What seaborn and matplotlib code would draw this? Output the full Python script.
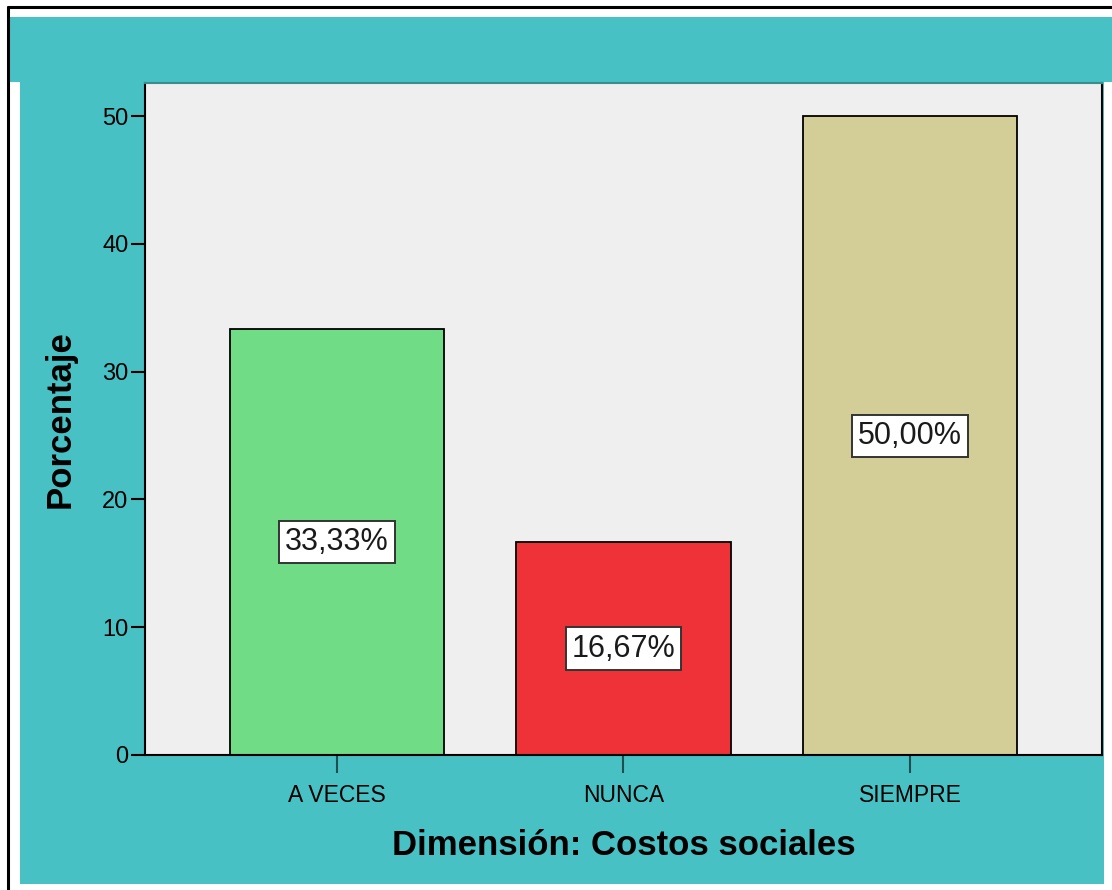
import pandas as pd
import matplotlib.pyplot as plt
import seaborn as sns
from matplotlib.patches import Rectangle
from matplotlib.lines import Line2D

# datos
categorias = ['A VECES', 'NUNCA', 'SIEMPRE']
porcentajes = [33.33, 16.67, 50.00]
etiquetas = ['33,33%', '16,67%', '50,00%']
colores = ['#70DD86', '#EF3138', '#D3CE98']

df = pd.DataFrame({'categoria': categorias, 'porcentaje': porcentajes})

sns.set_style('white')
plt.rcParams['font.family'] = ['Liberation Sans', 'DejaVu Sans']
plt.rcParams['text.color'] = 'black'
plt.rcParams['axes.labelcolor'] = 'black'
plt.rcParams['xtick.color'] = 'black'
plt.rcParams['ytick.color'] = 'black'

fig = plt.figure(figsize=(11.12, 8.90), dpi=100)
fig.patch.set_facecolor('white')

teal = '#48C1C5'
# fondo turquesa (banda superior y marco)
fig.patches.append(Rectangle((0.009, 0.9079), 0.991, 0.0731, transform=fig.transFigure,
                             facecolor=teal, edgecolor='none', zorder=-10))
fig.patches.append(Rectangle((0.018, 0.0067), 0.9748, 0.9012, transform=fig.transFigure,
                             facecolor=teal, edgecolor='none', zorder=-10))
# borde negro exterior
fig.add_artist(Line2D([0.0072, 0.0072], [0.0, 0.992], transform=fig.transFigure, color='black', lw=2.2))
fig.add_artist(Line2D([0.0072, 1.0], [0.992, 0.992], transform=fig.transFigure, color='black', lw=2.2))

ax = fig.add_axes([0.1304, 0.1517, 0.8606, 0.755])
ax.set_facecolor('#EFEFEF')

sns.barplot(data=df, x='categoria', y='porcentaje', hue='categoria', palette=colores,
            saturation=1, legend=False, width=0.75, edgecolor='black', linewidth=1.3, ax=ax, zorder=2)

for i, (v, txt) in enumerate(zip(porcentajes, etiquetas)):
    ax.text(i, v / 2, txt, ha='center', va='center', fontsize=22, color='#1A1A1A', zorder=3,
            bbox=dict(boxstyle='square,pad=0.2', facecolor='white', edgecolor='#333333', linewidth=1.4))

ax.set_xlim(-0.67, 2.67)
ax.set_ylim(0, 52.6)
ax.set_yticks([0, 10, 20, 30, 40, 50])

for s in ax.spines.values():
    s.set_visible(True)
    s.set_color('black')
    s.set_linewidth(1.5)
ax.spines['top'].set_color('#3A8E90')

ax.tick_params(axis='y', direction='out', length=10, width=1.5, color='black', labelsize=17, pad=2, left=True)
ax.tick_params(axis='x', direction='out', length=13, width=1.5, color='#1F4F50', labelsize=16.5, pad=8, bottom=True)

ax.set_xlabel('Dimensión: Costos sociales', fontsize=25, fontweight='bold', labelpad=16)
ax.set_ylabel('Porcentaje', fontsize=25, fontweight='bold', labelpad=18)

plt.savefig('out.png', dpi=100)
